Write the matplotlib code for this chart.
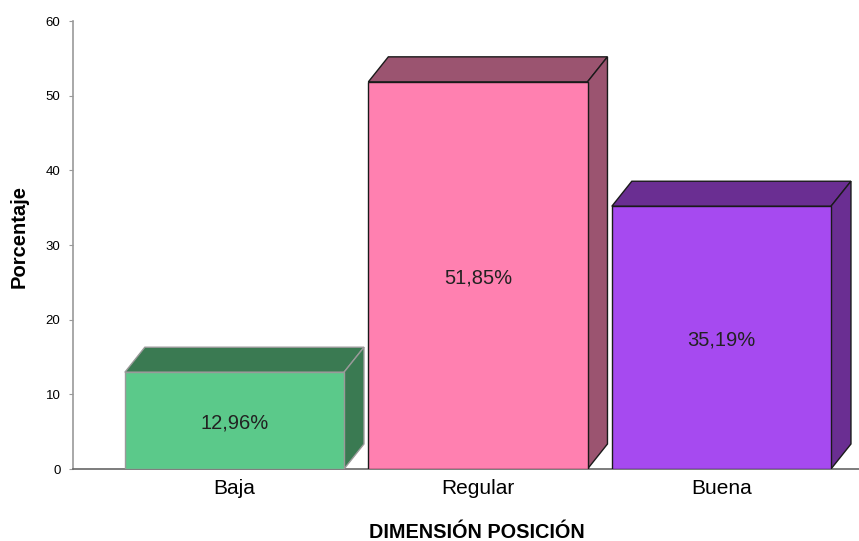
import matplotlib.pyplot as plt
from matplotlib.patches import Polygon

plt.rcParams['font.family'] = ['Liberation Sans', 'DejaVu Sans']

categorias = ['Baja', 'Regular', 'Buena']
porcentajes = [12.96, 51.85, 35.19]
etiquetas = ['12,96%', '51,85%', '35,19%']

color_frente = ['#5bc98a', '#ff80b0', '#a64af0']
color_lado = ['#3a7a52', '#9b5470', '#6a2e92']
color_borde = ['#9a9a9a', '#1a1a1a', '#1a1a1a']

ancho = 0.9
dx = 0.082   # profundidad 3D en x (unidades de categoria)
dy = 3.35    # profundidad 3D en y (porcentaje)

fig = plt.figure(figsize=(8.59, 5.41), dpi=100)
ax = fig.add_axes([73 / 859, 72 / 541, 786 / 859, 448 / 541])

x = list(range(len(categorias)))
for i, v in enumerate(porcentajes):
    x0 = x[i] - ancho / 2
    x1 = x[i] + ancho / 2
    # cara superior
    ax.add_patch(Polygon([(x0, v), (x0 + dx, v + dy), (x1 + dx, v + dy), (x1, v)],
                         closed=True, facecolor=color_lado[i], edgecolor=color_borde[i],
                         linewidth=1, zorder=2))
    # cara lateral
    ax.add_patch(Polygon([(x1, 0), (x1, v), (x1 + dx, v + dy), (x1 + dx, dy)],
                         closed=True, facecolor=color_lado[i], edgecolor=color_borde[i],
                         linewidth=1, zorder=2))
    # cara frontal
    ax.bar(x[i], v, width=ancho, color=color_frente[i], edgecolor=color_borde[i],
           linewidth=1, zorder=3)
    ax.text(x[i], v / 2 - 0.3, etiquetas[i], ha='center', va='center', fontsize=14.5,
            color='#222222', zorder=4)

ax.set_xlim(-0.663, 2.565)
ax.set_ylim(0, 60)
ax.set_yticks([0, 10, 20, 30, 40, 50, 60])
ax.set_xticks(x)
ax.set_xticklabels(categorias, fontsize=15)
ax.tick_params(axis='y', labelsize=9.5, length=3, color='#999999', pad=6)
ax.tick_params(axis='x', length=0, pad=7)

for lado in ['top', 'right']:
    ax.spines[lado].set_visible(False)
ax.spines['left'].set_color('#999999')
ax.spines['bottom'].set_color('#666666')
ax.spines['left'].set_linewidth(1.2)
ax.spines['bottom'].set_linewidth(1.2)

ax.set_xlabel('DIMENSIÓN POSICIÓN', fontsize=14.3, fontweight='bold', labelpad=18)
ax.set_ylabel('Porcentaje', fontsize=14.5, fontweight='bold', labelpad=12)
ax.xaxis.label.set_x(0.514)
ax.yaxis.label.set_y(0.52)

fig.savefig('out.png', dpi=100)
